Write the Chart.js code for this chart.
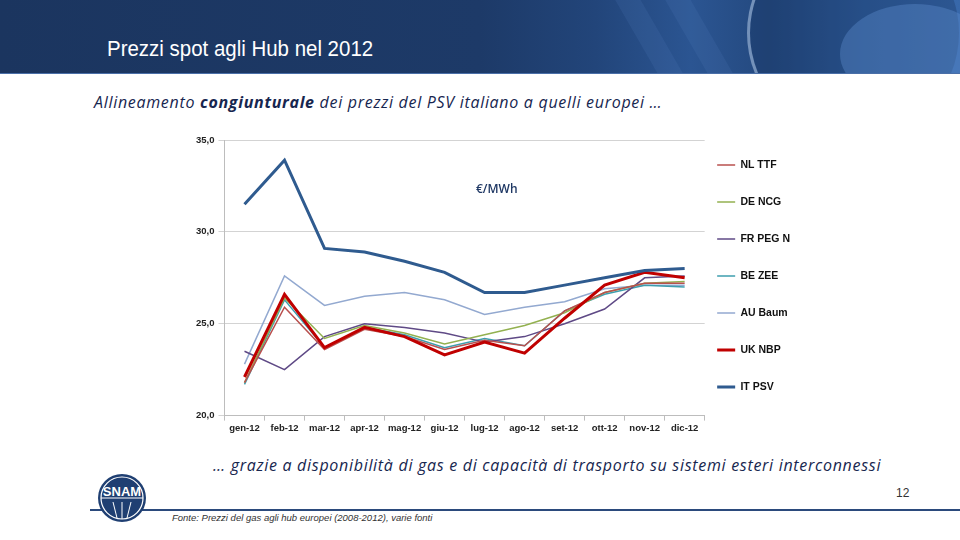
<!DOCTYPE html>
<html>
<head>
<meta charset="utf-8">
<script src="https://cdn.jsdelivr.net/npm/chart.js@4/dist/chart.umd.min.js"></script>
<style>
  body { margin: 0; width: 960px; height: 540px; background: #fff; position: relative; overflow: hidden; font-family: "Liberation Sans", Arial, sans-serif; }
  .banner { position: absolute; left: 0; top: 0; width: 960px; height: 73px;
    background: linear-gradient(90deg, #1b355f 0%, #1d3a68 50%, #22457a 62%, #2b5592 72%, #24497f 80%, #2f5d9c 90%, #3868aa 100%);
    border-bottom: 1px solid #4a6fa8; overflow: hidden; }
  .banner .stripe { position: absolute; top: -20px; width: 22px; height: 120px; background: rgba(90, 135, 200, 0.14); transform: rotate(-30deg); }
  .banner .ring { position: absolute; left: 747px; top: -73px; width: 206px; height: 206px; border-radius: 50%;
    border-left: 3px solid rgba(185, 210, 240, 0.55); border-top: 3px solid transparent; border-right: 3px solid transparent; border-bottom: 3px solid transparent;
    background: rgba(20, 45, 90, 0.3); }
  .banner .glow { position: absolute; left: 840px; top: 4px; width: 150px; height: 100px; border-radius: 50%;
    background: rgba(100, 150, 215, 0.35); }
  .banner h1 { position: absolute; left: 107px; top: 36px; margin: 0; color: #fff; font-weight: normal;
    font-family: "Liberation Sans Narrow", "Arial Narrow", "Liberation Sans", sans-serif; font-size: 22px;
    transform: scaleX(0.93); transform-origin: left center; white-space: nowrap; }
  .sub { position: absolute; left: 94px; top: 91px; color: #17264f; font-family: "Open Sans", sans-serif; font-style: italic; font-size: 16px; letter-spacing: 0.7px; white-space: nowrap; }
  .bottom { position: absolute; left: 213px; top: 454px; color: #17264f; font-family: "Open Sans", sans-serif; font-style: italic; font-size: 16px; letter-spacing: 0.7px; white-space: nowrap; }
  .unit { position: absolute; left: 476px; top: 180px; color: #1f3864; font-family: "Open Sans", sans-serif; font-size: 12px; font-weight: 600; }
  .rule { position: absolute; left: 90px; top: 509px; width: 870px; height: 2px; background: #2b4a7c; }
  .page { position: absolute; left: 896px; top: 486px; font-size: 12px; color: #333; }
  .fonte { position: absolute; left: 172px; top: 512px; font-size: 9.5px; font-style: italic; color: #333; }
  .logo { position: absolute; left: 97px; top: 473px; }
  #wrap { position: absolute; left: 178px; top: 128px; width: 636px; height: 312px; }
</style>
</head>
<body>
<div class="banner">
  <div class="stripe" style="left:640px"></div>
  <div class="stripe" style="left:690px"></div>
  <div class="ring"></div><div class="glow"></div>
  <h1>Prezzi spot agli Hub nel 2012</h1>
</div>
<div class="sub">Allineamento <b>congiunturale</b> dei prezzi del PSV italiano a quelli europei …</div>
<div id="wrap"><canvas id="myChart"></canvas></div>
<div class="unit">€/MWh</div>
<div class="bottom">… grazie a disponibilità di gas e di capacità di trasporto su sistemi esteri interconnessi</div>
<div class="rule"></div>
<svg class="logo" width="50" height="50" viewBox="0 0 50 50">
  <circle cx="25" cy="25" r="24" fill="#1f3f72"/>
  <circle cx="25" cy="25" r="21" fill="none" stroke="#fff" stroke-width="1.2"/>
  <line x1="4" y1="25" x2="46" y2="25" stroke="#fff" stroke-width="1"/>
  <line x1="16" y1="29" x2="20" y2="45" stroke="#fff" stroke-width="1"/>
  <line x1="25" y1="29" x2="25" y2="46" stroke="#fff" stroke-width="1"/>
  <line x1="34" y1="29" x2="30" y2="45" stroke="#fff" stroke-width="1"/>
  <text x="25" y="23" text-anchor="middle" fill="#fff" font-family="Liberation Sans Narrow, Arial Narrow, sans-serif" font-weight="bold" font-size="13">SNAM</text>
</svg>
<div class="page">12</div>
<div class="fonte">Fonte: Prezzi del gas agli hub europei (2008-2012), varie fonti</div>

<script>
const mesi = ['gen-12', 'feb-12', 'mar-12', 'apr-12', 'mag-12', 'giu-12', 'lug-12', 'ago-12', 'set-12', 'ott-12', 'nov-12', 'dic-12'];

const nlTtf = [21.8, 25.9, 23.6, 24.7, 24.3, 23.6, 24.1, 23.8, 25.7, 26.7, 27.2, 27.2];
const deNcg = [21.8, 26.4, 24.2, 24.9, 24.5, 23.9, 24.4, 24.9, 25.6, 26.7, 27.2, 27.3];
const frPegN = [23.5, 22.5, 24.3, 25.0, 24.8, 24.5, 24.0, 24.3, 25.0, 25.8, 27.5, 27.6];
const beZee = [21.7, 26.3, 23.7, 24.8, 24.4, 23.7, 24.2, 23.8, 25.7, 26.6, 27.1, 27.0];
const auBaum = [22.8, 27.6, 26.0, 26.5, 26.7, 26.3, 25.5, 25.9, 26.2, 26.9, 27.1, 27.1];
const ukNbp = [22.1, 26.6, 23.7, 24.8, 24.3, 23.3, 24.0, 23.4, 25.3, 27.1, 27.8, 27.5];
const itPsv = [31.5, 33.9, 29.1, 28.9, 28.4, 27.8, 26.7, 26.7, 27.1, 27.5, 27.9, 28.0];

function serie(label, data, color, width, order) {
    return {
        label: label,
        data: data,
        borderColor: color,
        backgroundColor: color,
        borderWidth: width,
        pointRadius: 0,
        pointHoverRadius: 0,
        tension: 0,
        fill: false,
        order: order
    };
}

// la legenda usa padding grande per la spaziatura verticale: la avvicino al grafico
const legendShift = {
    id: 'legendShift',
    afterLayout(chart) {
        chart.legend.left -= 14;
        chart.legend.right -= 14;
        chart.legend.top -= 12;
        chart.legend.bottom -= 12;
    }
};

const ctx = document.getElementById('myChart');
const myChart = new Chart(ctx, {
    type: 'line',
    data: {
        labels: mesi,
        datasets: [
            serie('NL TTF', nlTtf, '#b9504e', 1.5, 3),
            serie('DE NCG', deNcg, '#93b150', 1.5, 4),
            serie('FR PEG N', frPegN, '#5f4a86', 1.5, 5),
            serie('BE ZEE', beZee, '#3e9eae', 1.5, 6),
            serie('AU Baum', auBaum, '#93a9d0', 1.5, 7),
            serie('UK NBP', ukNbp, '#c00000', 3, 1),
            serie('IT PSV', itPsv, '#2f5b8f', 3, 0)
        ]
    },
    plugins: [legendShift],
    options: {
        responsive: true,
        maintainAspectRatio: false,
        animation: false,
        layout: { padding: { left: 14, top: 12, bottom: 4, right: 0 } },
        plugins: {
            tooltip: { enabled: false },
            legend: {
                position: 'right',
                align: 'center',
                labels: {
                    usePointStyle: true,
                    pointStyle: 'line',
                    pointStyleWidth: 18,
                    padding: 26.5,
                    color: '#111',
                    font: { family: 'Liberation Sans, Arial, sans-serif', size: 10.5, weight: 'bold' },
                    sort: (a, b) => a.datasetIndex - b.datasetIndex
                }
            }
        },
        scales: {
            x: {
                offset: true,
                grid: { offset: true, drawOnChartArea: false, color: '#bdbdbd', tickLength: 5 },
                border: { color: '#bdbdbd' },
                ticks: {
                    color: '#222',
                    padding: 2,
                    maxRotation: 0,
                    autoSkip: false,
                    font: { family: 'Liberation Sans, Arial, sans-serif', size: 9.5, weight: 'bold' }
                }
            },
            y: {
                min: 20,
                max: 35,
                grid: { color: '#d3d3d3', tickLength: 6 },
                border: { color: '#bdbdbd' },
                ticks: {
                    stepSize: 5,
                    padding: 4,
                    color: '#222',
                    font: { family: 'Liberation Sans, Arial, sans-serif', size: 9.5, weight: 'bold' },
                    callback: v => v.toFixed(1).replace('.', ',')
                }
            }
        }
    }
});
</script>
</body>
</html>
